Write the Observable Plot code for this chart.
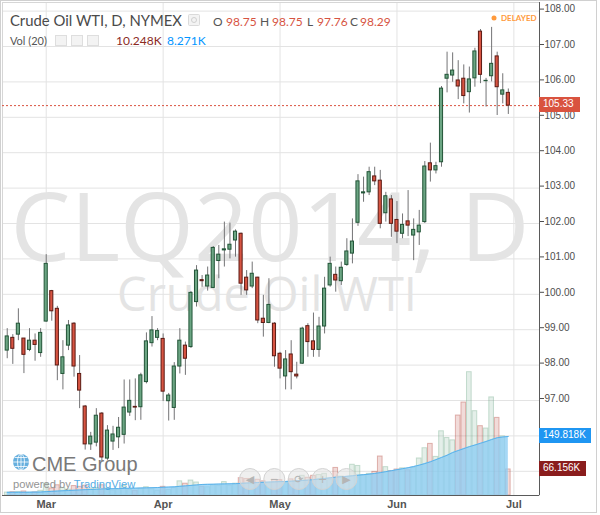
<!DOCTYPE html>
<html><head><meta charset="utf-8">
<script src="https://cdn.jsdelivr.net/npm/d3@7"></script>
<script src="https://cdn.jsdelivr.net/npm/@observablehq/plot@0.6"></script>
<style>
html,body{margin:0;padding:0;background:#fff;}
#wrap{position:relative;width:600px;height:515px;overflow:hidden;background:#fff;}
#wrap > svg, #wrap > div{position:absolute;left:0;top:0;}
.box{position:absolute;color:#fff;font:10px "Liberation Sans",Arial,sans-serif;line-height:14px;padding:0 0 0 4px;box-sizing:border-box;white-space:nowrap;}
</style></head><body><div id="wrap"></div>
<script>
// ---- data (CLQ2014 daily, Feb 20 – Jun 30 2014) ----
const opens  = [98.41,98.77,98.86,98.75,98.43,98.69,98.34,99.23,100.09,99.59,97.75,98.55,99.17,97.75,96.83,95.76,95.81,96.63,95.36,95.84,95.96,96.03,96.66,96.82,96.81,97.52,98.62,98.77,98.74,96.98,96.79,97.96,98.55,98.51,99.78,100.40,100.22,100.18,100.94,101.24,101.26,101.52,101.71,100.47,100.22,100.47,99.31,99.19,99.17,98.32,97.68,98.30,97.73,98.04,99.10,98.67,98.43,99.09,100.25,100.55,100.37,100.83,101.15,102.02,102.85,102.88,103.33,103.21,102.29,102.68,102.10,101.71,102.06,101.66,101.75,102.04,103.70,103.50,103.73,106.09,106.18,106.04,106.09,105.71,106.10,107.42,106.02,106.16,106.72,105.64,105.69];
const highs  = [99.03,98.86,99.59,98.75,99.03,98.88,99.03,101.12,100.11,99.66,98.69,99.26,99.20,98.27,96.86,96.10,96.77,96.66,96.29,96.27,96.52,97.58,97.58,97.61,97.77,98.91,99.37,99.03,98.88,97.20,98.07,99.03,98.65,100.08,100.81,100.53,100.77,101.35,101.38,102.04,102.01,101.82,101.73,100.67,100.91,100.48,99.97,100.44,99.20,98.36,98.41,98.69,98.08,99.07,99.17,99.47,99.35,100.48,101.05,100.77,100.91,101.57,102.13,103.38,103.31,103.59,103.59,103.50,102.88,102.79,102.62,102.27,102.93,102.13,102.37,103.75,104.27,103.73,105.87,106.84,106.82,106.60,106.48,106.42,106.95,107.48,106.10,107.54,106.84,106.23,105.80];
const lows   = [98.18,98.02,98.69,97.76,98.38,98.11,98.22,99.21,99.24,97.56,97.30,98.41,97.66,96.77,95.60,95.59,95.69,95.28,95.31,95.59,95.64,95.77,96.55,96.43,96.44,97.47,98.51,98.69,96.97,96.42,96.44,97.75,97.71,98.47,99.64,100.20,100.09,100.16,100.44,100.77,101.00,101.05,99.97,99.97,100.16,99.17,98.79,99.17,97.94,97.61,97.30,97.30,97.61,98.02,98.22,98.22,98.22,98.88,100.20,100.06,100.25,100.79,100.86,101.92,102.60,102.79,103.07,101.85,102.04,101.61,101.43,101.57,101.63,100.95,101.38,102.00,103.17,103.40,103.59,105.69,105.99,105.50,105.38,105.12,105.85,105.95,105.29,106.00,105.05,105.38,105.08];
const closes = [98.81,98.46,99.17,98.29,98.69,98.57,98.91,100.86,99.52,97.99,98.22,99.12,97.96,97.28,95.76,95.98,96.57,95.39,96.15,96.04,96.23,96.80,96.99,96.80,97.71,98.67,98.98,98.96,97.25,97.14,97.96,98.69,98.18,100.04,100.67,100.37,100.53,101.31,101.12,101.27,101.40,101.77,100.30,100.11,100.58,99.26,99.19,99.70,98.25,97.90,98.16,97.80,97.68,99.03,98.65,98.43,99.09,100.16,100.86,100.39,100.75,101.21,101.49,103.19,102.88,103.45,103.19,101.99,102.77,101.99,101.77,101.96,101.94,101.82,101.94,103.61,103.50,103.62,105.81,106.20,106.32,105.87,105.60,106.07,106.86,106.20,106.03,106.51,105.85,105.76,105.33];
// volume (thousands of contracts)
const volumes = [7.5,8.5,9,10.248,7,8,12,30,18,26,19,15,24,22,25,16,19,26,18,13,15,24,14,12,17,21,16,12,22,14,19,36,30,38,33,22,21,26,24,34,25,30,44,42,28,40,36,30,40,39,32,41,36,50,45,50,52,55,40,70,48,44,78,75,52,55,60,99,72,62,66,69,64,70,94,120,131,98,163,146,140,203,236,313,214,176,170,249,197,150,66.156];
// Vol (20) moving average as drawn (thousands)
const volMA = [8.0,8.1,8.2,8.271,8.4,8.6,8.8,9.8,10.5,11.3,12,12.6,13.4,14,14.8,15.3,15.9,16.6,17,17.3,17.6,18,18.3,18.6,19,19.4,19.8,20.2,20.8,21.4,22,23.3,24.4,25.6,26.8,28,28.3,28.6,29,29.4,29.7,30,30.8,31.6,32.2,32.9,33.5,34,34.6,35.2,35.8,36.4,37,38,39,40.3,41.8,43.2,44.8,46.5,47.5,48.6,50,51.5,52.8,54.2,56,58,60.5,63,65.5,68,70.5,73.5,77,81,85.5,91,96.5,102,109,114,119,124,128,132.5,137,142,146.5,148.5,149.818];
const monthIdx = [7, 28, 49, 70, 91];
const monthLabels = ["Mar", "Apr", "May", "Jun", "Jul"];
const priceTicks = [97,98,99,100,101,102,103,104,105,106,107,108];
const gridTicks = [95,96,97,98,99,100,101,102,103,104,105,106,107,108];
const lastPrice = 105.33;
const lastVolume = 66.156;
const lastVolMA = 149.818;
const hover = {o: "98.75", h: "98.75", l: "97.76", c: "98.29", vol: "10.248K", ma: "8.271K"};

const bars = opens.map((o, i) => ({i, open: o, high: highs[i], low: lows[i], close: closes[i], vol: volumes[i], ma: volMA[i]}));
const up = d => d.close >= d.open;

const W = 600, H = 515;
const xOpt = {domain: [-0.85, 95.6], range: [2, 539]};
const yPrice = {domain: [95, 108], range: [470.8, 10.6]};
const common = {width: W, height: H, marginLeft: 2, marginRight: 61, marginTop: 2, marginBottom: 20};
const font = "'Liberation Sans', Arial, sans-serif";

const base = Plot.plot({
  ...common,
  style: {background: "#fff", fontFamily: font, fontSize: "10px", color: "#4e4e4e"},
  x: {...xOpt},
  y: {...yPrice},
  marks: [
    Plot.gridY(gridTicks, {stroke: "#e3e3e3", strokeOpacity: 1}),
    Plot.gridX(monthIdx, {stroke: "#e3e3e3", strokeOpacity: 1}),
    Plot.text(["CLQ2014, D"], {text: d => d, frameAnchor: "middle", dx: -1, dy: -18, fontSize: 95, fontFamily: "'Open Sans', sans-serif", fill: "#e4e4e4"}),
    Plot.text(["Crude Oil WTI"], {text: d => d, frameAnchor: "middle", dx: -4, dy: 47, fontSize: 47, fontFamily: "'Open Sans', sans-serif", fill: "#e4e4e4"}),
    Plot.axisY(priceTicks, {anchor: "right", tickSize: 4, tickPadding: 1, dy: -2, tickFormat: d => d.toFixed(2), fontSize: 10}),
    Plot.axisX(monthIdx, {anchor: "bottom", tickSize: 0, tickPadding: 5, tickFormat: d => monthLabels[monthIdx.indexOf(d)], fontSize: 11, fontWeight: "bold", fill: "#555"}),
    Plot.frame({stroke: "#d6d6d6"})
  ]
});

const vol = Plot.plot({
  ...common,
  style: {background: "transparent"},
  x: {...xOpt, axis: null},
  y: {domain: [0, 300], range: [495, 495 - 300 * 0.394], axis: null},
  marks: [
    Plot.rectY(bars, {x1: d => d.i - 0.42, x2: d => d.i + 0.42, y: "vol",
      fill: d => up(d) ? "#6ba583" : "#b03a2e", fillOpacity: 0.18,
      stroke: d => up(d) ? "#6ba583" : "#b03a2e", strokeOpacity: 0.35}),
    Plot.areaY(bars, {x: "i", y: "ma", fill: "#8dcdf3", fillOpacity: 0.78}),
    Plot.lineY(bars, {x: "i", y: "ma", stroke: "#5ab2ea", strokeWidth: 1}),
    Plot.ruleY([0], {stroke: "#5a5a5a"}),
    Plot.ruleX([95.6], {stroke: "#5a5a5a"})
  ]
});

const candles = Plot.plot({
  ...common,
  style: {background: "transparent"},
  x: {...xOpt, axis: null},
  y: {...yPrice, axis: null},
  marks: [
    Plot.ruleY([lastPrice], {stroke: "#d9533f", strokeDasharray: "2,2"}),
    Plot.ruleX(bars, {x: "i", y1: "low", y2: "high", stroke: "#737375", strokeWidth: 1}),
    Plot.rect(bars, {x1: d => d.i - 0.28, x2: d => d.i + 0.28, y1: "open", y2: "close",
      fill: d => up(d) ? "#6ba583" : "#d75442",
      stroke: d => up(d) ? "#225437" : "#5b1a13", strokeWidth: 1})
  ]
});

const wrap = document.getElementById("wrap");
wrap.append(base, vol, candles);

// value labels on the right axis, placed with the charts' own scales
function label(text, y, bg, w) {
  const d = document.createElement("div");
  d.className = "box";
  d.textContent = text;
  Object.assign(d.style, {left: "539px", top: (y - 7.5) + "px", width: w + "px", height: "15px", background: bg});
  wrap.append(d);
}
label(lastPrice.toFixed(2), candles.scale("y").apply(lastPrice) - 1, "#d9533f", 41);
label(lastVolMA.toFixed(3) + "K", vol.scale("y").apply(lastVolMA), "#1f96f2", 52);
label(lastVolume.toFixed(3) + "K", vol.scale("y").apply(lastVolume), "#8a1d1d", 47);

// header and other overlays
const ov = document.createElementNS("http://www.w3.org/2000/svg", "svg");
ov.setAttribute("width", W); ov.setAttribute("height", H);
ov.style.pointerEvents = "none";
ov.innerHTML = `
<g font-family="Lato, 'Liberation Sans', sans-serif">
  <text x="10" y="26" font-size="15.5" fill="#4a4a4a" textLength="172" lengthAdjust="spacingAndGlyphs">Crude Oil WTI, D, NYMEX</text>
  <rect x="188.5" y="14.5" width="11" height="11" rx="1" fill="#f3f3f3" stroke="#dadada"/>
  <circle cx="194" cy="20" r="2.5" fill="none" stroke="#d0d0d0"/>
  <g font-size="12">
    <text x="213" y="26" fill="#555">O</text><text x="226" y="26" fill="#d75442">${hover.o}</text>
    <text x="260" y="26" fill="#555">H</text><text x="272" y="26" fill="#d75442">${hover.h}</text>
    <text x="307" y="26" fill="#555">L</text><text x="317" y="26" fill="#d75442">${hover.l}</text>
    <text x="350" y="26" fill="#555">C</text><text x="360" y="26" fill="#d75442">${hover.c}</text>
  </g>
  <text x="10" y="45" font-size="11" fill="#555">Vol (20)</text>
  <rect x="55.5" y="35.5" width="11" height="10" fill="#f3f3f3" stroke="#dedede"/>
  <rect x="71.5" y="35.5" width="11" height="10" fill="#f3f3f3" stroke="#dedede"/>
  <rect x="87.5" y="35.5" width="11" height="10" fill="#f3f3f3" stroke="#dedede"/>
  <text x="116" y="45" font-size="12" fill="#8b2a1f">${hover.vol}</text>
  <text x="167" y="45" font-size="12" fill="#0496ff">${hover.ma}</text>
  <circle cx="494" cy="18" r="2.5" fill="#ff9a3c"/>
  <text x="501" y="21" font-size="8" font-weight="bold" fill="#ff9a3c">DELAYED</text>
</g>
<g opacity="0.92">
  <circle cx="21" cy="462" r="8" fill="#5aa9dc"/>
  <path d="M13 462h16M21 454v16M15 457.5h12M15 466.5h12" stroke="#fff" stroke-width="0.8" fill="none"/>
  <ellipse cx="21" cy="462" rx="3.5" ry="8" stroke="#fff" stroke-width="0.8" fill="none"/>
  <text x="32" y="471" font-family="'Liberation Sans', Arial, sans-serif" font-size="20" fill="#6e6e6e">CME Group</text>
  <text x="13" y="488" font-family="'Liberation Sans', Arial, sans-serif" font-size="11.2" fill="#8c8c8c">powered by <tspan fill="#48a7e3">TradingView</tspan></text>
</g>
<g fill="rgba(225,225,225,0.55)" stroke="#d3d3d3">
  <circle cx="250" cy="479" r="10.5"/><circle cx="274.3" cy="479" r="10.5"/><circle cx="298.8" cy="479" r="10.5"/><circle cx="322.6" cy="479" r="10.5"/><circle cx="346.5" cy="479" r="10.5"/>
</g>
<g fill="#b5b5b5" font-family="'DejaVu Sans', sans-serif" font-size="11" text-anchor="middle">
  <text x="250" y="483">◀</text><text x="274.3" y="483">−</text><text x="298.8" y="483">⟳</text><text x="322.6" y="483">+</text><text x="346.5" y="483">▶</text>
</g>
<rect x="0.5" y="0.5" width="596" height="512" fill="none" stroke="#d0d0d0"/>
`;
wrap.append(ov);
</script></body></html>
